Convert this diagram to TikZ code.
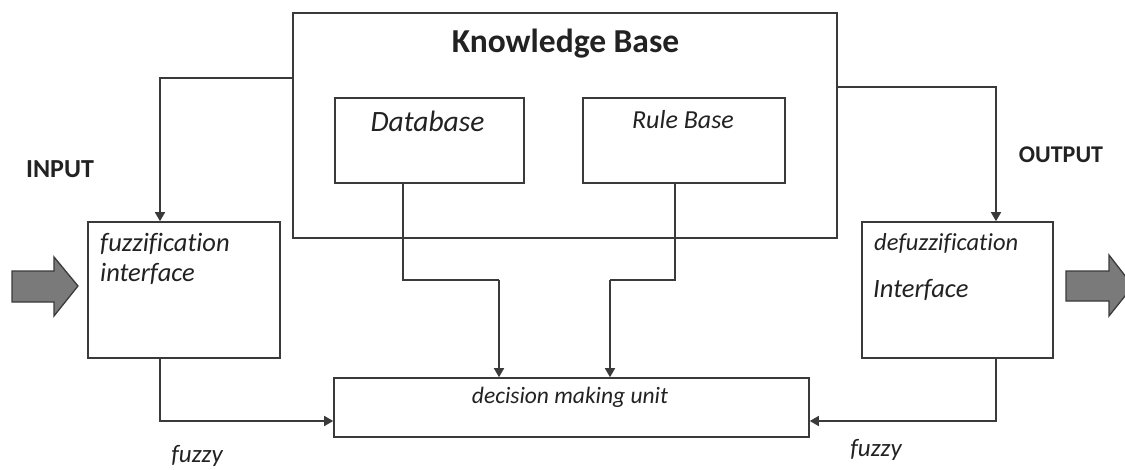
\documentclass[tikz,border=0pt]{standalone}
\usepackage{fontspec}
\setmainfont[Ligatures=NoCommon]{Carlito}
\usetikzlibrary{arrows.meta}
\definecolor{linegray}{HTML}{3A3A3A}
\definecolor{textgray}{HTML}{222222}
\definecolor{arrowfill}{HTML}{7A7A7A}
\tikzset{
  block/.style={draw=linegray, line width=1.6pt, fill=white, inner sep=0pt},
  flow/.style={draw=linegray, line width=1.6pt, -{Triangle[length=9pt,width=10pt]}},
  link/.style={draw=linegray, line width=1.6pt},
  lbl/.style={text=textgray, inner sep=0pt, anchor=base},
  lblw/.style={text=textgray, inner sep=0pt, anchor=base west},
  bigarrow/.style={draw=linegray, fill=arrowfill, line width=1.3pt, line join=miter},
}
\begin{document}
\begin{tikzpicture}[x=1pt, y=-1pt]
  \useasboundingbox (0,0) rectangle (1125,469);
  \clip (0,0) rectangle (1125,469);

  % main blocks
  \node[block, minimum width=544pt, minimum height=225pt] (kb) at (565,125.5) {};
  \node[block, minimum width=189pt, minimum height=85pt] (db) at (429.5,140.5) {};
  \node[block, minimum width=202pt, minimum height=85pt] (rb) at (684,140.5) {};
  \node[block, minimum width=192pt, minimum height=136pt] (fz) at (184,290) {};
  \node[block, minimum width=191pt, minimum height=136pt] (dfz) at (957.5,290) {};
  \node[block, minimum width=475pt, minimum height=59pt] (dmu) at (571.5,407.5) {};

  % block texts
  \node[lbl, font=\fontsize{33.5}{36}\selectfont\bfseries] (kbt) at (565.5,52) {Knowledge Base};
  \node[lbl, font=\fontsize{29.5}{32}\selectfont\itshape] (dbt) at (427.5,131) {Database};
  \node[lbl, font=\fontsize{26}{28}\selectfont\itshape] (rbt) at (683,128) {Rule Base};
  \node[lblw, font=\fontsize{26.5}{28}\selectfont\itshape] (fzt1) at (100,251) {fuzzification};
  \node[lblw, font=\fontsize{26.5}{28}\selectfont\itshape] (fzt2) at (100,281) {interface};
  \node[lblw, font=\fontsize{24.5}{26}\selectfont\itshape] (dfzt1) at (874,250) {defuzzification};
  \node[lblw, font=\fontsize{26.5}{28}\selectfont\itshape] (dfzt2) at (873,297) {Interface};
  \node[lbl, font=\fontsize{23.5}{25}\selectfont\itshape] (dmut) at (570,403) {decision making unit};

  % side labels
  \node[lbl, font=\fontsize{26}{28}\selectfont\bfseries] (inp) at (60,177) {INPUT};
  \node[lbl, font=\fontsize{24}{26}\selectfont\bfseries] (outp) at (1061,162) {OUTPUT};
  \node[lbl, font=\fontsize{25}{27}\selectfont\itshape] (fzl) at (197,462) {fuzzy};
  \node[lbl, font=\fontsize{25}{27}\selectfont\itshape] (dfzl) at (876,456) {fuzzy};

  % routing points
  \coordinate (kbl) at (160,78);
  \coordinate (kbr) at (996,87);
  \coordinate (dbj) at (403,280);
  \coordinate (dbd) at (499,280);
  \coordinate (rbj) at (675,280);
  \coordinate (rbd) at (610,280);
  \coordinate (mid) at (0,421);

  % knowledge base to interfaces
  \draw[flow] (kb.west |- kbl) -| (fz.north -| kbl);
  \draw[flow] (kb.east |- kbr) -| (dfz.north -| kbr);

  % database and rule base to decision unit
  \draw[link] (db.south -| dbj) -- (dbj) -- (dbd);
  \draw[flow] (dbd) -- (dmu.north -| dbd);
  \draw[link] (rb.south -| rbj) -- (rbj) -- (rbd);
  \draw[flow] (rbd) -- (dmu.north -| rbd);

  % interfaces to decision unit
  \draw[flow] (fz.south -| kbl) |- (dmu.west |- mid);
  \draw[flow] (dfz.south -| kbr) |- (dmu.east |- mid);

  % input and output arrows
  \draw[bigarrow] (12,271) -- (54,271) -- (54,257) -- (78,286) -- (54,316) -- (54,302) -- (12,302) -- cycle;
  \draw[bigarrow] (1066,271) -- (1109,271) -- (1109,255) -- (1133,286) -- (1109,316) -- (1109,301) -- (1066,301) -- cycle;
\end{tikzpicture}
\end{document}
